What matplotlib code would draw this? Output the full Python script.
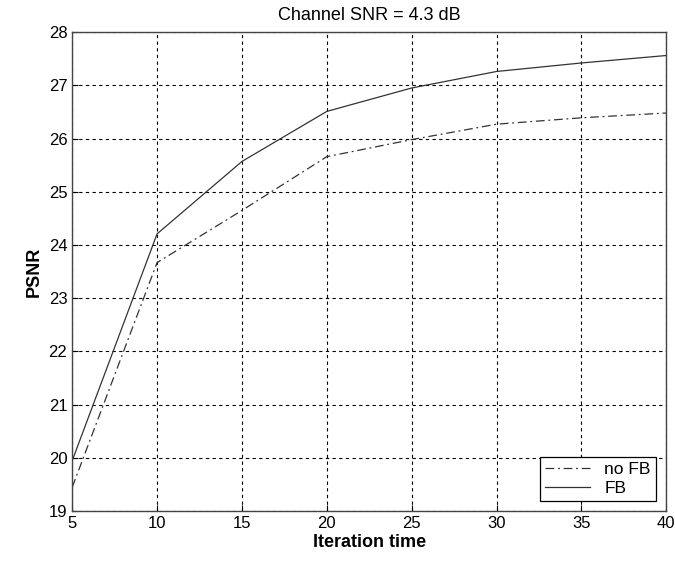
import matplotlib
matplotlib.use('Agg')
import matplotlib.pyplot as plt

# iteration counts and PSNR values
iterations = [5, 10, 15, 20, 25, 30, 35, 40]
psnr_no_fb = [19.45, 23.67, 24.65, 25.66, 25.98, 26.27, 26.39, 26.48]
psnr_fb = [19.95, 24.21, 25.57, 26.51, 26.95, 27.26, 27.42, 27.56]

plt.rcParams['font.family'] = ['Liberation Sans', 'DejaVu Sans']

fig = plt.figure(figsize=(6.75, 5.63), dpi=100)
ax = fig.add_axes([0.107, 0.092, 0.88, 0.851])

ax.plot(iterations, psnr_no_fb, color='#333333', linestyle=(0, (7, 3, 1.5, 3)), linewidth=0.9, label='no FB')
ax.plot(iterations, psnr_fb, color='#333333', linestyle='-', linewidth=0.9, label='FB')

ax.set_xlim(5, 40)
ax.set_ylim(19, 28)
ax.set_xticks(range(5, 41, 5))
ax.set_yticks(range(19, 29))
ax.tick_params(direction='in', labelsize=12, length=4)
ax.grid(True, color='black', linestyle=(0, (3, 3)), linewidth=0.8)
for s in ax.spines.values():
    s.set_color('#444444')
    s.set_linewidth(1.0)

ax.set_title('Channel SNR = 4.3 dB', fontsize=13, pad=9)
ax.set_xlabel('Iteration time', fontsize=13, fontweight='bold', labelpad=2)
ax.set_ylabel('PSNR', fontsize=13, fontweight='bold')

leg = ax.legend(loc='lower right', fontsize=12.5, fancybox=False, framealpha=1,
                edgecolor='black', borderaxespad=0.6, handlelength=2.6,
                borderpad=0.3, labelspacing=0.2)
leg.get_frame().set_linewidth(0.9)

fig.savefig('out.png', dpi=100)
